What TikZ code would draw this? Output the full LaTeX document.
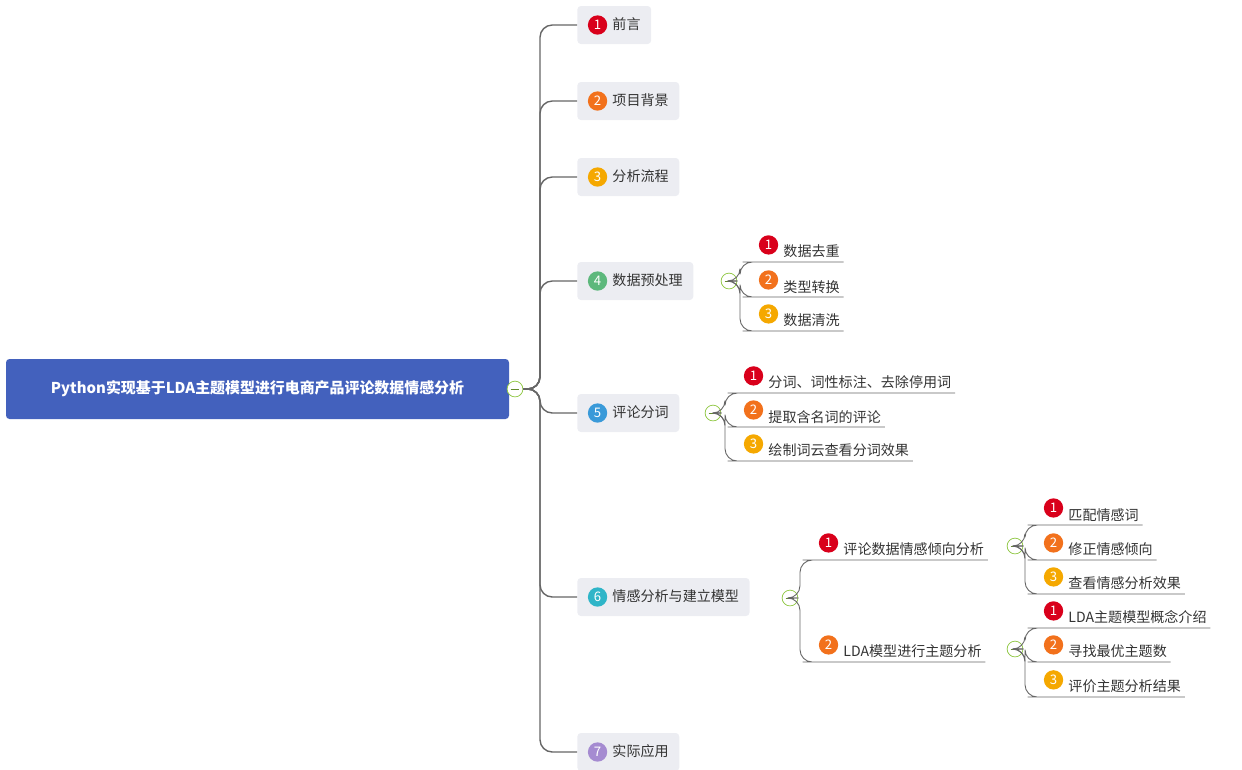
\documentclass[tikz,border=0pt]{standalone}
\usepackage{fontspec}
\setmainfont{Noto Sans CJK SC}
\usetikzlibrary{positioning}
\definecolor{rootBlue}{HTML}{4361BD}
\definecolor{topicGray}{HTML}{ECEDF2}
\definecolor{lineGray}{HTML}{666666}
\definecolor{cRed}{HTML}{D9001B}
\definecolor{cOrange}{HTML}{F2711C}
\definecolor{cYellow}{HTML}{F5A800}
\definecolor{cGreen}{HTML}{5DB87C}
\definecolor{cBlue}{HTML}{3A9AD9}
\definecolor{cCyan}{HTML}{2FB5C8}
\definecolor{cPurple}{HTML}{A58BD1}
\definecolor{foldGreen}{HTML}{8DC63F}
\newcommand\nb[2]{\tikz[baseline=-0.65ex]\node[circle,fill=#1,text=white,inner sep=0pt,minimum size=11pt,font=\fontsize{7.5}{7.5}\selectfont]{#2};\hspace{3pt}}

\begin{document}
\begin{tikzpicture}[x=0.02cm,y=-0.02cm,
  font=\fontsize{8}{10}\selectfont,
  root/.style={rectangle,rounded corners=2pt,fill=rootBlue,text=white,
    font=\fontsize{8.5}{10}\selectfont\bfseries,minimum width=503*0.02cm,minimum height=60*0.02cm},
  topic/.style={rectangle,rounded corners=2pt,fill=topicGray,text=black!80,
    anchor=west,minimum height=38*0.02cm,inner xsep=6pt},
  sub/.style={anchor=south west,inner sep=2pt,text=black!80},
  fold/.style={circle,draw=foldGreen,fill=white,inner sep=0pt,minimum size=9pt,
    path picture={\draw[foldGreen!70!black] (path picture bounding box.west) ++(2pt,0) -- ++(5pt,0);}},
  branch/.style={draw=lineGray,line width=0.8pt,rounded corners=7pt},
  leaf/.style={draw=lineGray,line width=0.5pt,rounded corners=7pt}
]
\useasboundingbox (0,0) rectangle (1242,769);

% root
\node[root] (root) at (257.5,389) {Python实现基于LDA主题模型进行电商产品评论数据情感分析};
\node[fold] (rf) at (515,389) {};

% main topics
\node[topic] (t1) at (577,25) {\nb{cRed}{1}前言\hspace{16pt}};
\node[topic] (t2) at (577,101) {\nb{cOrange}{2}项目背景\hspace{10pt}};
\node[topic] (t3) at (577,177) {\nb{cYellow}{3}分析流程\hspace{10pt}};
\node[topic] (t4) at (577,281) {\nb{cGreen}{4}数据预处理\hspace{10pt}};
\node[topic] (t5) at (577,413) {\nb{cBlue}{5}评论分词\hspace{10pt}};
\node[topic] (t6) at (577,597) {\nb{cCyan}{6}情感分析与建立模型\hspace{10pt}};
\node[topic] (t7) at (577,752) {\nb{cPurple}{7}实际应用\hspace{10pt}};

\foreach \t in {t1,t2,t3,t4,t5,t6,t7}
  \draw[branch] (rf.east) -- (540,389) |- (\t.west);

% fold markers
\node[fold] (f4) at (729,281) {};
\node[fold] (f5) at (713,413) {};
\node[fold] (f6) at (790,598) {};

% children of 4
\node[sub] (s41) at (755,262) {\nb{cRed}{1}数据去重\hspace{8pt}};
\node[sub] (s42) at (755,297) {\nb{cOrange}{2}类型转换\hspace{8pt}};
\node[sub] (s43) at (755,331) {\nb{cYellow}{3}数据清洗\hspace{8pt}};
\foreach \s in {s41,s42,s43}
  \draw[leaf] (f4.east) -- (740,281) |- (\s.south west) -- (\s.south east);

% children of 5
\node[sub] (s51) at (740,393) {\nb{cRed}{1}分词、词性标注、去除停用词\hspace{8pt}};
\node[sub] (s52) at (740,427) {\nb{cOrange}{2}提取含名词的评论\hspace{8pt}};
\node[sub] (s53) at (740,461) {\nb{cYellow}{3}绘制词云查看分词效果\hspace{8pt}};
\foreach \s in {s51,s52,s53}
  \draw[leaf] (f5.east) -- (725,413) |- (\s.south west) -- (\s.south east);

% children of 6
\node[sub] (s61) at (815,560) {\nb{cRed}{1}评论数据情感倾向分析\hspace{8pt}};
\node[sub] (s62) at (815,662) {\nb{cOrange}{2}LDA模型进行主题分析\hspace{8pt}};
\foreach \s in {s61,s62}
  \draw[leaf] (f6.east) -- (800,598) |- (\s.south west) -- (\s.south east);
\node[fold] (f61) at (1015,546) {};
\node[fold] (f62) at (1015,649) {};

% grandchildren
\node[sub] (g1) at (1040,525) {\nb{cRed}{1}匹配情感词\hspace{6pt}};
\node[sub] (g2) at (1040,560) {\nb{cOrange}{2}修正情感倾向\hspace{6pt}};
\node[sub] (g3) at (1040,594) {\nb{cYellow}{3}查看情感分析效果\hspace{6pt}};
\foreach \s in {g1,g2,g3}
  \draw[leaf] (f61.east) -- (1025,546) |- (\s.south west) -- (\s.south east);
\node[sub] (g4) at (1040,628) {\nb{cRed}{1}LDA主题模型概念介绍\hspace{6pt}};
\node[sub] (g5) at (1040,662) {\nb{cOrange}{2}寻找最优主题数\hspace{6pt}};
\node[sub] (g6) at (1040,697) {\nb{cYellow}{3}评价主题分析结果\hspace{6pt}};
\foreach \s in {g4,g5,g6}
  \draw[leaf] (f62.east) -- (1025,649) |- (\s.south west) -- (\s.south east);
\end{tikzpicture}
\end{document}
